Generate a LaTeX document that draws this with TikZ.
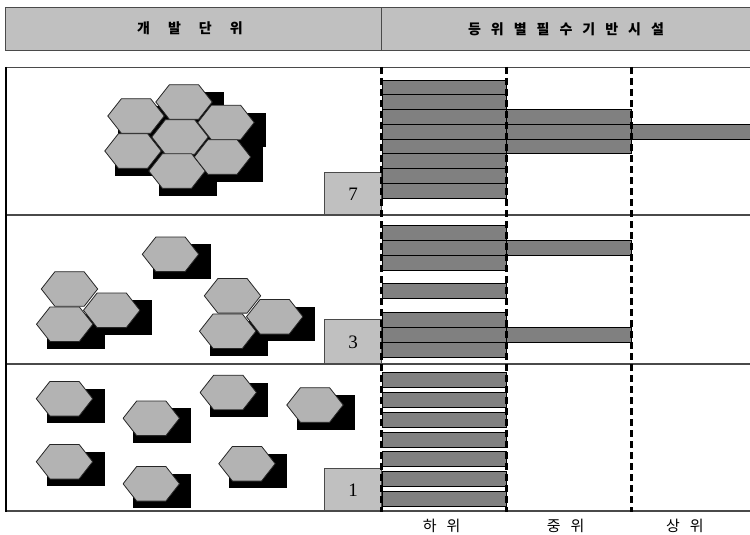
\documentclass[tikz,border=0pt]{standalone}
\usepackage{fontspec}
\setmainfont{Liberation Serif}
\newfontfamily\kr{Noto Sans CJK KR}[BoldFont={Noto Sans CJK KR Black}]
\definecolor{hdrgray}{HTML}{C0C0C0}
\definecolor{hexgray}{HTML}{B3B3B3}
\definecolor{bargray}{HTML}{808080}
\definecolor{rulegray}{HTML}{4A4A4A}

\begin{document}
\begin{tikzpicture}[x=1pt,y=-1pt,
  hdrcell/.style={draw=rulegray, line width=1pt, fill=hdrgray, inner sep=0pt},
  hdrtext/.style={font=\kr\bfseries\fontsize{14}{16}\selectfont},
  rowrule/.style={draw=rulegray, line width=1.2pt},
  tierline/.style={draw=black, line width=3pt, dash pattern=on 7pt off 4pt},
  bar/.style={draw=black, line width=0.8pt, fill=bargray},
  numbox/.style={draw=rulegray, line width=0.9pt, fill=hdrgray, inner sep=0pt,
    anchor=north west, font=\fontsize{19}{21}\selectfont},
  collabel/.style={font=\kr\fontsize{15}{17}\selectfont},
  hexline/.style={draw=black!85, line width=0.8pt, fill=hexgray, line join=round},
  pics/hexcell/.style={code={
    \path[hexline] (-28.2,0) -- (-14.6,-17.3) -- (14.6,-17.3) -- (28.2,0)
      -- (14.6,17.3) -- (-14.6,17.3) -- cycle;}},
  pics/hexshade/.style={code={\fill[black] (-18,-10) rectangle (40,24.5);}}
]
\useasboundingbox (0,0) rectangle (750,535);

% header row
\node[hdrcell, anchor=north west, minimum width=376pt, minimum height=43pt]
  (hdrUnit) at (5,7) {};
\node[hdrcell, anchor=north west, minimum width=369pt, minimum height=43pt]
  (hdrTier) at (381,7) {};
\node[hdrtext] (hdrUnitText) at (190,28.5) {\spaceskip=18pt 개 발 단 위};
\node[hdrtext] (hdrTierText) at (hdrTier.center) {\spaceskip=10pt 등 위 별 필 수 기 반 시 설};

% bars: lower tier column
\foreach \t in {80,94.75,109.5,124.25,139,153.75,168.5,183.25}
  \path[bar] (382.7,\t) rectangle (506.7,\t+14.75);
\foreach \t in {225.7,240.7,255.3,283.3,312.7,327.3,342.3}
  \path[bar] (382.7,\t) rectangle (506.7,\t+14.6);
\foreach \t in {372.7,392.3,412.3,432,451.7,471.7,491}
  \path[bar] (382.7,\t) rectangle (506.7,\t+15);

% bars: middle tier column
\foreach \t in {109.5,124.25,139}
  \path[bar] (506.7,\t) rectangle (631.7,\t+14.75);
\foreach \t in {240.7,327.3}
  \path[bar] (506.7,\t) rectangle (631.7,\t+14.6);

% bar: upper tier column
\path[bar] (631.7,124.25) rectangle (752,139);

% shadows of the hexagons
\foreach \p in {(136,116),(184,102),(180,137),(226,122.5),(133,151),(177,171),(222.5,157),
                (170.5,254.3),(111.7,310.3),(64.7,324.2),(274.7,316.7),(227.7,331.2),
                (64.5,398.7),(151.3,418.3),(228.3,392.5),(315,405),(64.5,461.7),(151.3,483.8),(247,463.7)}
  \pic at \p {hexshade};

% hexagons: seven-cell cluster
\foreach \p in {(136,116),(184,102),(180,137),(226,122.5),(133,151),(177,171),(222.5,157)}
  \pic at \p {hexcell};
% hexagons: single cell and two three-cell clusters
\foreach \p in {(170.5,254.3),(69.5,289),(111.7,310.3),(64.7,324.2),(232.5,295.8),(274.7,316.7),(227.7,331.2)}
  \pic at \p {hexcell};
% hexagons: seven scattered cells
\foreach \p in {(64.5,398.7),(151.3,418.3),(228.3,392.5),(315,405),(64.5,461.7),(151.3,483.8),(247,463.7)}
  \pic at \p {hexcell};

% number boxes
\node[numbox, minimum width=56.7pt, minimum height=43.3pt] (num7) at (324.3,171.7) {7};
\node[numbox, minimum width=56.7pt, minimum height=44.7pt] (num3) at (324.3,319.3) {3};
\node[numbox, minimum width=56.7pt, minimum height=42.7pt] (num1) at (324.3,468.3) {1};

% table rules
\draw[rowrule] (5,67.5) -- (752,67.5);
\draw[rowrule] (5,215) -- (752,215);
\draw[rowrule] (5,364) -- (752,364);
\draw[rowrule] (5,511) -- (752,511);
\draw[black, line width=2.2pt] (5.6,66.9) -- (5.6,511.6);

% tier boundaries
\draw[tierline] (381,67) -- (381,512);
\draw[tierline] (506.7,67) -- (506.7,512);
\draw[tierline] (631.7,67) -- (631.7,512);

% column labels
\node[collabel] (lowTier) at (441.7,525.5) {\spaceskip=10pt 하 위};
\node[collabel] (midTier) at (565.7,525.5) {\spaceskip=10pt 중 위};
\node[collabel] (topTier) at (685,525.5) {\spaceskip=10pt 상 위};
\end{tikzpicture}
\end{document}
